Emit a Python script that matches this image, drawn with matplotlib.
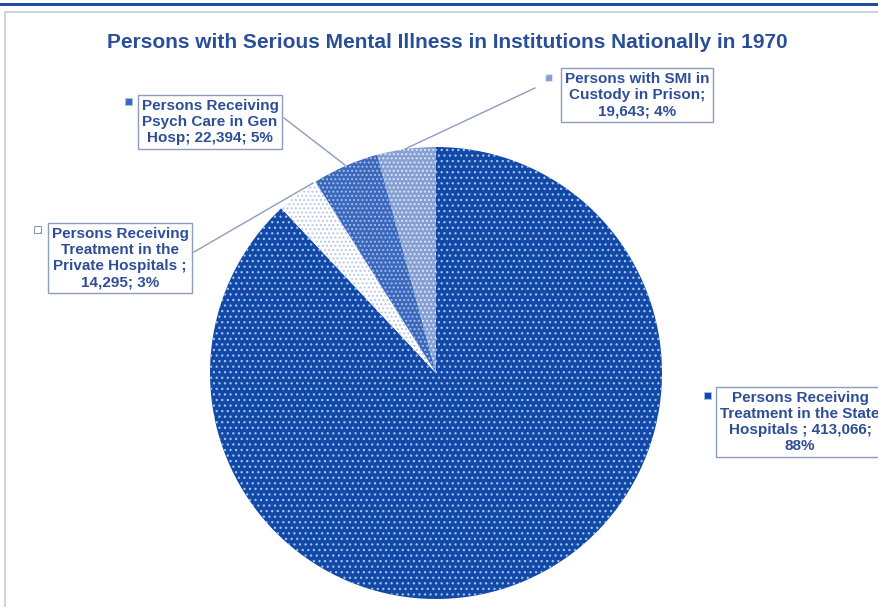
import matplotlib.pyplot as plt
from matplotlib.patches import Rectangle

plt.rcParams['font.family'] = ['Liberation Sans', 'DejaVu Sans']
plt.rcParams['hatch.linewidth'] = 0.9

# data
categories = ['Persons Receiving\nTreatment in the State\nHospitals ; 413,066;\n88%',
              'Persons Receiving\nTreatment in the\nPrivate Hospitals ;\n14,295; 3%',
              'Persons Receiving\nPsych Care in Gen\nHosp; 22,394; 5%',
              'Persons with SMI in\nCustody in Prison;\n19,643; 4%']
values = [413066, 14295, 22394, 19643]
fills = ['#1149a8', '#ffffff', '#3a68bd', '#86a0d4']
dots = ['#a9bfe6', '#b5c5e4', '#a9bfe6', '#e0e7f4']
hatches = ['...', '....', '....', '....']

W, H = 879, 607
fig = plt.figure(figsize=(W / 100, H / 100), dpi=100)
ax = fig.add_axes([0, 0, 1, 1])

cx, cy, r = 436, H - 373, 226
wedges, _ = ax.pie(values, startangle=90, counterclock=False, center=(cx, cy), radius=r,
                   colors=fills, wedgeprops=dict(linewidth=0), frame=True)
for w, dc, h in zip(wedges, dots, hatches):
    w.set_hatch(h)
    w.set_edgecolor(dc)
ax.set_xlim(0, W)
ax.set_ylim(0, H)
ax.set_aspect('equal')
ax.axis('off')

# frame: dark blue rule on top, light gray chart border
ax.add_patch(Rectangle((0, H - 6), W, 3, color='#1f4e9e', lw=0))
ax.add_patch(Rectangle((5, -10), W + 20, H - 12 + 10, fill=False, ec='#c5ccd8', lw=1.2))

ax.text(447, H - 42, 'Persons with Serious Mental Illness in Institutions Nationally in 1970',
        ha='center', va='center', fontsize=15, fontweight='bold', color='#2a4f9a')

# label positions (text centre) and leader line end points on the pie
label_pos = [(800, H - 422), (120, H - 258), (210, H - 122), (637, H - 95)]
line_from = [None, (194, H - 252), (284, H - 118), (535, H - 88)]
line_to = [None, (313, H - 183), (345, H - 165), (405, H - 149)]
key_pos = [(708, H - 395), (38, H - 230), (129, H - 102), (549, H - 77)]

for i, lab in enumerate(categories):
    x, y = label_pos[i]
    ax.text(x, y, lab, ha='center', va='center', fontsize=11, fontweight='bold',
            color='#2e4f96', linespacing=1.2,
            bbox=dict(boxstyle='square,pad=0.25', fc='white', ec='#8c9cc0', lw=1))
    if line_from[i] is not None:
        ax.plot([line_from[i][0], line_to[i][0]], [line_from[i][1], line_to[i][1]],
                color='#8c9cc0', lw=1)
    kx, ky = key_pos[i]
    ax.add_patch(Rectangle((kx - 3.5, ky - 3.5), 7, 7, fc=fills[i],
                           ec=dots[i] if i != 1 else '#6f86b8', hatch='..', lw=0.6))

fig.savefig('out.png', dpi=100)
